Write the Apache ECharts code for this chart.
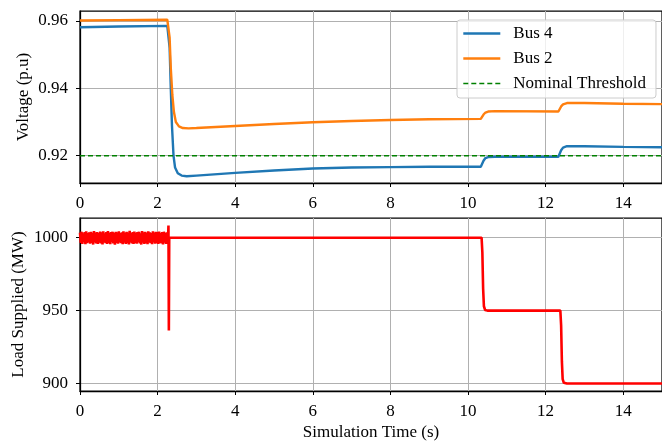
<!DOCTYPE html>
<html>
<head>
<meta charset="utf-8">
<script src="https://cdn.jsdelivr.net/npm/echarts/dist/echarts.min.js"></script>
<style>
  html, body { margin: 0; padding: 0; background: #fff; }
  #chart { width: 662px; height: 445px; }
</style>
</head>
<body>
<div id="chart"></div>
<script>
// [time (s), voltage (p.u)]
const bus4 = [
  [0, 0.9581], [1, 0.9583], [2.25, 0.9585], [2.28, 0.9582], [2.31, 0.952], [2.34, 0.940],
  [2.37, 0.929], [2.41, 0.920], [2.45, 0.9165], [2.52, 0.9148], [2.62, 0.9141], [2.75, 0.9139],
  [3, 0.9141], [4, 0.9149], [5, 0.9156], [6, 0.9162], [7, 0.9165], [8, 0.9166], [9, 0.9167],
  [10.33, 0.9167], [10.36, 0.9170], [10.4, 0.9185], [10.45, 0.9193], [10.52, 0.9196], [10.7, 0.9197],
  [12.33, 0.9197], [12.36, 0.9201], [12.4, 0.9216], [12.45, 0.9224], [12.55, 0.9228], [13, 0.9228],
  [14, 0.9226], [15, 0.9225]
]
const bus2 = [
  [0, 0.9601], [1, 0.9602], [2.25, 0.9603], [2.28, 0.9600], [2.31, 0.955], [2.34, 0.946],
  [2.38, 0.938], [2.42, 0.933], [2.47, 0.930], [2.55, 0.9287], [2.65, 0.9282], [2.8, 0.9281],
  [3, 0.9282], [4, 0.9288], [5, 0.9294], [6, 0.9299], [7, 0.9303], [8, 0.9306], [9, 0.9308],
  [10.33, 0.9309], [10.36, 0.9312], [10.4, 0.9322], [10.45, 0.9328], [10.52, 0.9331], [10.7, 0.9332],
  [12.33, 0.9331], [12.36, 0.9334], [12.4, 0.9346], [12.45, 0.9352], [12.55, 0.9356], [13, 0.9356],
  [14, 0.9354], [15, 0.9353]
]
const threshold = [[0, 0.92], [15, 0.92]]

// [time (s), load (MW)] -- noisy band before the fault, then the load-shedding steps
const load = [
  [0.00, 1003.4], [0.02, 996.5], [0.04, 1004.1], [0.06, 995.8], [0.08, 1003.0], [0.10, 996.9],
  [0.12, 1003.8], [0.14, 995.5], [0.16, 1004.4], [0.18, 996.2], [0.20, 1003.2], [0.22, 996.8],
  [0.24, 1003.7], [0.26, 995.9], [0.28, 1004.0], [0.30, 996.4], [0.32, 1003.3], [0.34, 995.3],
  [0.36, 1004.6], [0.38, 996.7], [0.40, 1003.5], [0.42, 996.0], [0.44, 1003.9], [0.46, 995.7],
  [0.48, 1003.1], [0.50, 996.6], [0.52, 1004.2], [0.54, 996.1], [0.56, 1003.6], [0.58, 995.4],
  [0.60, 1004.3], [0.62, 996.8], [0.64, 1003.0], [0.66, 996.3], [0.68, 1003.9], [0.70, 995.8],
  [0.72, 1004.5], [0.74, 996.5], [0.76, 1003.4], [0.78, 995.6], [0.80, 1003.8], [0.82, 996.9],
  [0.84, 1004.1], [0.86, 996.0], [0.88, 1003.2], [0.90, 995.2], [0.92, 1004.0], [0.94, 996.4],
  [0.96, 1003.6], [0.98, 995.9], [1.00, 1004.3], [1.02, 996.7], [1.04, 1003.1], [1.06, 996.2],
  [1.08, 1003.7], [1.10, 995.5], [1.12, 1004.4], [1.14, 996.6], [1.16, 1003.3], [1.18, 995.8],
  [1.20, 1004.0], [1.22, 996.3], [1.24, 1003.5], [1.26, 995.4], [1.28, 1004.7], [1.30, 996.8],
  [1.32, 1003.2], [1.34, 996.0], [1.36, 1003.9], [1.38, 995.7], [1.40, 1004.2], [1.42, 996.5],
  [1.44, 1003.4], [1.46, 995.9], [1.48, 1003.8], [1.50, 996.9], [1.52, 1004.1], [1.54, 996.1],
  [1.56, 1003.0], [1.58, 995.3], [1.60, 1004.5], [1.62, 996.6], [1.64, 1003.6], [1.66, 995.8],
  [1.68, 1004.0], [1.70, 996.4], [1.72, 1003.3], [1.74, 995.6], [1.76, 1004.3], [1.78, 996.7],
  [1.80, 1003.7], [1.82, 996.2], [1.84, 1003.1], [1.86, 995.5], [1.88, 1004.4], [1.90, 996.8],
  [1.92, 1003.5], [1.94, 995.9], [1.96, 1004.0], [1.98, 996.3], [2.00, 1003.8], [2.02, 995.7],
  [2.04, 1004.2], [2.06, 996.5], [2.08, 1003.2], [2.10, 996.0], [2.12, 1003.9], [2.14, 995.4],
  [2.16, 1004.1], [2.18, 996.6], [2.20, 1003.4], [2.22, 995.8], [2.24, 1003.7],
  [2.27, 1000.5], [2.28, 1008.4], [2.29, 936.3], [2.30, 1000],
  [10.35, 1000], [10.37, 990], [10.39, 965], [10.41, 953], [10.44, 950.5], [10.5, 950],
  [12.38, 950], [12.4, 940], [12.42, 915], [12.44, 903], [12.47, 900.5], [12.55, 900], [15, 900]
]

const timeTicks = [0, 2, 4, 6, 8, 10, 12, 14]
const voltTicks = [0.92, 0.94, 0.96]
const loadTicks = [900, 950, 1000]

const font = 'Liberation Serif'
const gridColor = '#b0b0b0'

function xAxisFor(gridIndex, withName) {
  return {
    type: 'value', gridIndex: gridIndex, min: 0, max: 15,
    name: withName ? 'Simulation Time (s)' : '',
    nameLocation: 'middle', nameGap: 33, nameMoveOverlap: false,
    nameTextStyle: { fontFamily: font, fontSize: 17, color: '#000' },
    axisLine: { show: true, onZero: false, lineStyle: { color: '#000', width: 1.25 } },
    axisTick: { show: true, length: 4, customValues: timeTicks, lineStyle: { color: '#000' } },
    axisLabel: { customValues: timeTicks, margin: 12, fontFamily: font, fontSize: 17, color: '#000' },
    splitLine: { show: true, lineStyle: { color: gridColor, width: 1 } }
  }
}
function yAxisFor(gridIndex, name, nameGap, min, max, ticks, digits) {
  return {
    type: 'value', gridIndex: gridIndex, min: min, max: max,
    name: name, nameLocation: 'middle', nameRotate: 90, nameGap: nameGap, nameMoveOverlap: false,
    nameTextStyle: { fontFamily: font, fontSize: 17, color: '#000' },
    axisLine: { show: true, lineStyle: { color: '#000', width: 1.25 } },
    axisTick: { show: true, length: 4, customValues: ticks, lineStyle: { color: '#000' } },
    axisLabel: {
      customValues: ticks, margin: 12, fontFamily: font, fontSize: 17, color: '#000',
      formatter: v => v.toFixed(digits)
    },
    splitLine: { show: true, lineStyle: { color: gridColor, width: 1 } }
  }
}

const chart = echarts.init(document.getElementById('chart'))
chart.setOption({
  animation: false,
  backgroundColor: '#fff',
  grid: [
    { left: 80, right: -3, top: 11, height: 172, show: true, borderColor: '#000', borderWidth: 1.25 },
    { left: 80, right: -3, top: 218, height: 173, show: true, borderColor: '#000', borderWidth: 1.25 }
  ],
  legend: {
    data: [
      { name: 'Bus 4', lineStyle: { width: 2.6 } },
      { name: 'Bus 2', lineStyle: { width: 2.6 } },
      { name: 'Nominal Threshold', lineStyle: { width: 1.6 } }
    ],
    orient: 'vertical', left: 457, top: 20,
    padding: [5, 10, 6, 5], itemGap: 8, itemWidth: 37, itemHeight: 17,
    itemStyle: { opacity: 0 },
    backgroundColor: 'rgba(255,255,255,0.8)', borderColor: '#cccccc', borderWidth: 1, borderRadius: 3,
    textStyle: { fontFamily: font, fontSize: 17, color: '#000', padding: [0, 0, 0, 8] }
  },
  xAxis: [xAxisFor(0, false), xAxisFor(1, true)],
  yAxis: [
    yAxisFor(0, 'Voltage (p.u)', 48, 0.9119, 0.9629, voltTicks, 2),
    yAxisFor(1, 'Load Supplied (MW)', 53, 894.9, 1013.5, loadTicks, 0)
  ],
  series: [
    { name: 'Bus 4', type: 'line', xAxisIndex: 0, yAxisIndex: 0, data: bus4, symbol: 'none',
      color: '#1f77b4', lineStyle: { width: 2.4, color: '#1f77b4' } },
    { name: 'Bus 2', type: 'line', xAxisIndex: 0, yAxisIndex: 0, data: bus2, symbol: 'none',
      color: '#ff7f0e', lineStyle: { width: 2.4, color: '#ff7f0e' } },
    { name: 'Nominal Threshold', type: 'line', xAxisIndex: 0, yAxisIndex: 0, data: threshold, symbol: 'none',
      color: '#008000', lineStyle: { width: 1.5, color: '#008000', type: [5, 3] } },
    { name: 'Load', type: 'line', xAxisIndex: 1, yAxisIndex: 1, data: load, symbol: 'none',
      color: '#ff0000', lineStyle: { width: 2.6, color: '#ff0000' } }
  ]
})
</script>
</body>
</html>
